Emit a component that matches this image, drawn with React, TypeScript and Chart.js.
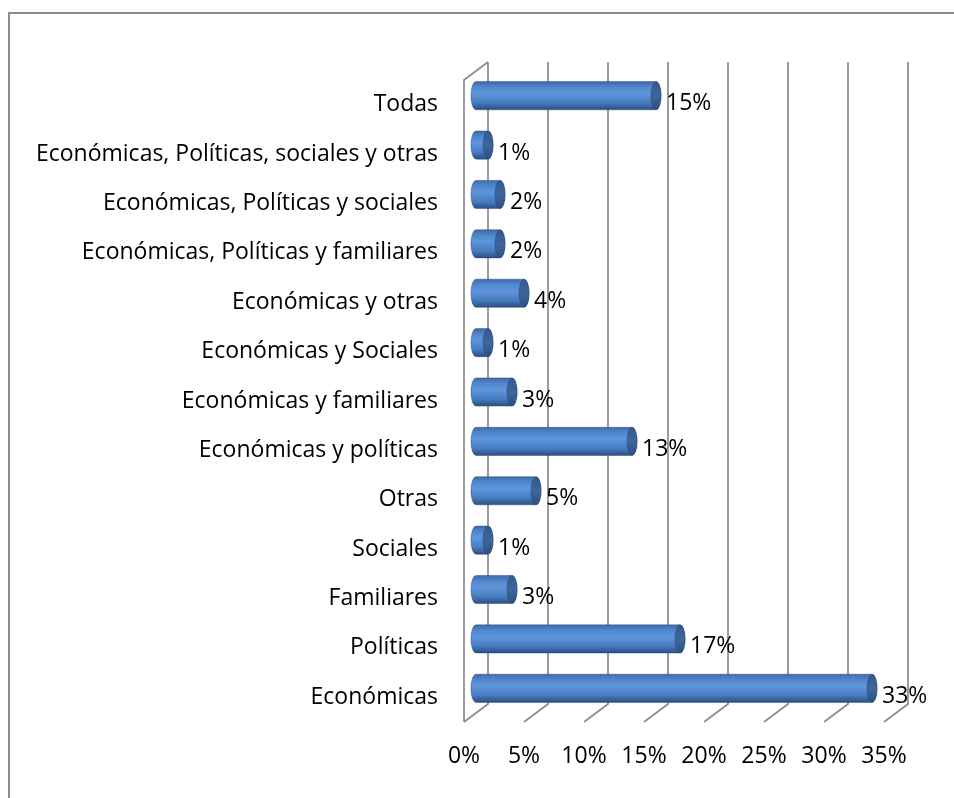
import React, { useEffect, useRef } from "react";
import { Chart, registerables } from "chart.js";

Chart.register(...registerables);

const categories = [
  "Todas",
  "Económicas, Políticas, sociales y otras",
  "Económicas, Políticas y sociales",
  "Económicas, Políticas y familiares",
  "Económicas y otras",
  "Económicas y Sociales",
  "Económicas y familiares",
  "Económicas y políticas",
  "Otras",
  "Sociales",
  "Familiares",
  "Políticas",
  "Económicas",
];
const values = [15, 1, 2, 2, 4, 1, 3, 13, 5, 1, 3, 17, 33];
const xTickValues = [0, 5, 10, 15, 20, 25, 30, 35];

const FONT = "'Open Sans', Lato, sans-serif";
const FONT_SIZE = 23;
const DX = 24;
const DY = -18;

const depthPlugin = {
  id: "depth3d",
  beforeDatasetsDraw(chart: any) {
    const { ctx, chartArea: a, scales } = chart;
    const x = scales.x;
    ctx.save();
    ctx.strokeStyle = "#8c8c8c";
    ctx.lineWidth = 1.7;
    ctx.beginPath();
    ctx.moveTo(a.left, a.bottom);
    ctx.lineTo(a.left, a.top);
    ctx.lineTo(a.left + DX, a.top + DY);
    for (const v of xTickValues) {
      const px = x.getPixelForValue(v);
      ctx.moveTo(px + DX, a.top + DY);
      ctx.lineTo(px + DX, a.bottom + DY);
      ctx.lineTo(px, a.bottom);
    }
    ctx.stroke();
    ctx.restore();
  },
  afterDatasetsDraw(chart: any) {
    const { ctx } = chart;
    const meta = chart.getDatasetMeta(0);
    ctx.save();
    meta.data.forEach((el: any, i: number) => {
      const p = el.getProps(["x", "y", "base", "height"], true);
      const h = p.height;
      const cy = p.y + DY / 2;
      const x0 = p.base + DX / 2;
      const x1 = p.x + DX / 2;
      const rx = h * 0.18;
      const top = cy - h / 2;
      const bot = cy + h / 2;
      const g = ctx.createLinearGradient(0, top, 0, bot);
      g.addColorStop(0, "#3f6ba8");
      g.addColorStop(0.2, "#5187cd");
      g.addColorStop(0.42, "#5e96dc");
      g.addColorStop(0.75, "#477cc0");
      g.addColorStop(1, "#2b4f82");
      ctx.beginPath();
      ctx.moveTo(x0, top);
      ctx.lineTo(x1, top);
      ctx.ellipse(x1, cy, rx, h / 2, 0, -Math.PI / 2, Math.PI / 2);
      ctx.lineTo(x0, bot);
      ctx.ellipse(x0, cy, rx, h / 2, 0, Math.PI / 2, (3 * Math.PI) / 2);
      ctx.closePath();
      ctx.fillStyle = g;
      ctx.fill();
      ctx.strokeStyle = "rgba(40,70,115,0.55)";
      ctx.lineWidth = 0.8;
      ctx.stroke();
      const gc = ctx.createLinearGradient(0, top, 0, bot);
      gc.addColorStop(0, "#34598d");
      gc.addColorStop(0.5, "#3f669c");
      gc.addColorStop(1, "#2e5080");
      ctx.beginPath();
      ctx.ellipse(x1, cy, rx, h / 2, 0, 0, Math.PI * 2);
      ctx.fillStyle = gc;
      ctx.fill();
      ctx.stroke();

      ctx.fillStyle = "#000";
      ctx.font = `${FONT_SIZE}px ${FONT}`;
      ctx.textAlign = "left";
      ctx.textBaseline = "middle";
      ctx.fillText(values[i] + "%", p.x + 22, p.y - 1);
    });
    ctx.restore();
  },
};

export default function App() {
  const ref = useRef<HTMLCanvasElement | null>(null);
  useEffect(() => {
    if (!ref.current) return;
    const chart = new Chart(ref.current, {
      type: "bar",
      data: {
        labels: categories,
        datasets: [
          {
            data: values,
            backgroundColor: "rgba(0,0,0,0)",
            borderWidth: 0,
            categoryPercentage: 1,
            barPercentage: 0.57,
          },
        ],
      },
      options: {
        indexAxis: "y",
        responsive: false,
        animation: false,
        devicePixelRatio: 1,
        layout: { padding: { top: 80, right: 70, left: 0, bottom: 0 } },
        plugins: { legend: { display: false }, tooltip: { enabled: false } },
        scales: {
          x: {
            min: 0,
            max: 35,
            grid: { display: false, drawTicks: false },
            border: { display: false },
            afterFit: (s: any) => {
              s.height = 76;
            },
            ticks: {
              stepSize: 5,
              padding: 21,
              color: "#000",
              font: { family: FONT, size: FONT_SIZE },
              callback: (v: any) => v + "%",
            },
          },
          y: {
            grid: { display: false, drawTicks: false },
            border: { display: false },
            afterFit: (s: any) => {
              s.width = 464;
            },
            ticks: {
              padding: 26,
              color: "#000",
              font: { family: FONT, size: FONT_SIZE },
              autoSkip: false,
            },
          },
        },
      },
      plugins: [depthPlugin],
    });
    return () => chart.destroy();
  }, []);

  return (
    <div
      style={{
        position: "fixed",
        left: 0,
        top: 0,
        width: 954,
        height: 798,
        overflow: "hidden",
        background: "#fff",
      }}
    >
      <div
        style={{
          position: "absolute",
          left: 8,
          top: 12,
          width: 2000,
          height: 2000,
          borderLeft: "2px solid #8c8c8c",
          borderTop: "2px solid #8c8c8c",
        }}
      />
      <canvas
        ref={ref}
        width={954}
        height={798}
        style={{ position: "absolute", left: 0, top: 0 }}
      />
    </div>
  );
}
